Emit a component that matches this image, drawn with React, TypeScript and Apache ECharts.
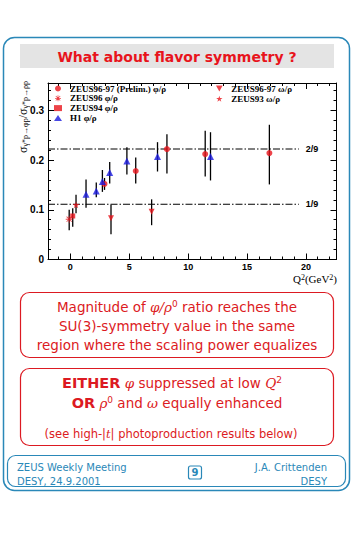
import React, { useEffect, useRef } from 'react';
import * as echarts from 'echarts';

// ---- data ----
const prelimPhiX = [2.9, 5.55, 8.2, 11.45, 16.9];
const prelimPhiY = [0.152, 0.178, 0.222, 0.212, 0.214];
const prelimPhiLo = [0.140, 0.153, 0.173, 0.167, 0.151];
const prelimPhiHi = [0.164, 0.205, 0.252, 0.259, 0.271];

const zeus96PhiX = [-0.1];
const zeus96PhiY = [0.081];
const zeus96PhiLo = [0.059];
const zeus96PhiHi = [0.100];

const zeus94PhiX = [0.2];
const zeus94PhiY = [0.0875];
const zeus94PhiLo = [0.066];
const zeus94PhiHi = [0.103];

const h1PhiX = [1.33, 2.2, 2.72, 3.34, 4.8, 7.4, 11.9];
const h1PhiY = [0.131, 0.138, 0.157, 0.175, 0.198, 0.207, 0.207];
const h1PhiLo = [0.104, 0.125, 0.136, 0.153, 0.171, 0.177, 0.159];
const h1PhiHi = [0.161, 0.155, 0.180, 0.196, 0.226, 0.236, 0.256];

const prelimOmegaX = [3.45, 6.9];
const prelimOmegaY = [0.083, 0.096];
const prelimOmegaLo = [0.051, 0.069];
const prelimOmegaHi = [0.110, 0.121];

const zeus93OmegaX = [0.48];
const zeus93OmegaY = [0.110];
const zeus93OmegaLo = [0.093];
const zeus93OmegaHi = [0.130];

const refLevels = [2 / 9, 1 / 9];
const refLabels = ['2/9', '1/9'];
const refXEnd = 19.4;

const seriesNames = [
  'ZEUS96-97 (Prelim.) φ/ρ',
  'ZEUS96 φ/ρ',
  'ZEUS94 φ/ρ',
  'H1 φ/ρ',
  'ZEUS96-97 ω/ρ',
  'ZEUS93 ω/ρ',
];

const X_MIN = -1.9;
const X_MAX = 22.6;
const Y_MIN = 0;
const Y_MAX = 0.355;

const RED = '#e8141c';
const BLUE = '#1a1adf';
const TEAL = '#2a88b8';
const TXT_RED = '#dc1a22';

const ASTERISK =
  'path://M4.4,0L5.6,0L5.6,10L4.4,10Z M0,4.4L10,4.4L10,5.6L0,5.6Z M0.9,1.7L1.7,0.9L9.1,8.3L8.3,9.1Z M8.3,0.9L9.1,1.7L1.7,9.1L0.9,8.3Z';
const STAR =
  'path://M5,0L6.2,3.6L10,3.6L6.9,5.9L8.1,9.5L5,7.3L1.9,9.5L3.1,5.9L0,3.6L3.8,3.6Z';
const DOWN_TRI = 'path://M0,0L10,0L5,9Z';

const zip = (xs: number[], ys: number[]) => xs.map((x, i) => [x, ys[i]]);
const zipErr = (xs: number[], lo: number[], hi: number[]) => xs.map((x, i) => [x, lo[i], hi[i]]);

const errData = [
  ...zipErr(prelimPhiX, prelimPhiLo, prelimPhiHi),
  ...zipErr(zeus96PhiX, zeus96PhiLo, zeus96PhiHi),
  ...zipErr(zeus94PhiX, zeus94PhiLo, zeus94PhiHi),
  ...zipErr(h1PhiX, h1PhiLo, h1PhiHi),
  ...zipErr(prelimOmegaX, prelimOmegaLo, prelimOmegaHi),
  ...zipErr(zeus93OmegaX, zeus93OmegaLo, zeus93OmegaHi),
];

const axisFont = { color: '#000', fontFamily: 'Liberation Sans', fontWeight: 'bold' as const };

const legendText = {
  fontFamily: 'Liberation Serif',
  fontWeight: 'bold' as const,
  fontSize: 9,
  color: '#000',
  lineHeight: 7,
  padding: [0, 0, 0, 3],
};

function buildOption(): any {
  const scatter = (name: string, data: number[][], symbol: string, size: number, color: string) => ({
    type: 'scatter',
    name,
    data,
    symbol,
    symbolSize: size,
    itemStyle: { color },
    z: 4,
    silent: true,
  });

  const refSeries = refLevels.map((lv, i) => ({
    type: 'line',
    name: 'ref' + i,
    data: [
      [X_MIN, lv],
      [refXEnd, lv],
    ],
    symbol: 'none',
    silent: true,
    z: 2,
    lineStyle: { color: '#000', width: 1, type: [7, 2, 1.5, 2] },
    endLabel: {
      show: true,
      formatter: refLabels[i],
      distance: 7,
      fontFamily: 'Liberation Sans',
      fontWeight: 'bold',
      fontSize: 9,
      color: '#000',
    },
  }));

  const mkX = (pos: 'bottom' | 'top', labels: boolean) => ({
    type: 'value',
    position: pos,
    min: X_MIN,
    max: X_MAX,
    splitNumber: 5,
    axisLine: { show: true, onZero: false, lineStyle: { color: '#000', width: 1 } },
    axisTick: { show: true, inside: true, length: 6, lineStyle: { color: '#000' } },
    minorTick: { show: true, splitNumber: 5, length: 3, lineStyle: { color: '#000' } },
    splitLine: { show: false },
    axisLabel: {
      show: labels,
      ...axisFont,
      fontSize: 9,
      margin: 3,
      showMinLabel: false,
      showMaxLabel: false,
      formatter: (v: number) => (Math.abs(v - Math.round(v)) < 1e-6 ? String(Math.round(v)) : ''),
    },
  });

  const mkY = (pos: 'left' | 'right', labels: boolean) => ({
    type: 'value',
    position: pos,
    min: Y_MIN,
    max: Y_MAX,
    interval: 0.1,
    axisLine: { show: true, onZero: false, lineStyle: { color: '#000', width: 1 } },
    axisTick: { show: true, inside: true, length: 6, lineStyle: { color: '#000' } },
    minorTick: { show: true, splitNumber: 5, length: 3, lineStyle: { color: '#000' } },
    splitLine: { show: false },
    axisLabel: {
      show: labels,
      ...axisFont,
      fontSize: 10,
      margin: 4,
      showMaxLabel: false,
      formatter: (v: number) => {
        if (v === 0) return '0';
        return Math.abs(v * 10 - Math.round(v * 10)) < 1e-6 ? v.toFixed(1) : '';
      },
    },
  });

  const txt = (x: number, y: number, text: string, extra: any = {}) => ({
    type: 'text',
    x,
    y,
    silent: true,
    style: {
      text,
      align: 'center',
      verticalAlign: 'middle',
      fill: TXT_RED,
      fontFamily: 'DejaVu Sans',
      fontSize: 13.5,
      ...extra,
    },
  });

  const mathRich = {
    m: { fontFamily: 'DejaVu Serif', fontStyle: 'italic', fontSize: 13.5, fill: TXT_RED },
    sup: { fontFamily: 'DejaVu Sans', fontSize: 9, fill: TXT_RED, verticalAlign: 'top' },
    b: { fontFamily: 'DejaVu Sans', fontWeight: 'bold', fontSize: 14.5, fill: TXT_RED },
    ms: { fontFamily: 'DejaVu Serif', fontStyle: 'italic', fontSize: 11.5, fill: TXT_RED },
  };

  const graphic: any[] = [
    // outer frame
    {
      type: 'rect',
      silent: true,
      shape: { x: 3.5, y: 37.5, width: 346, height: 453, r: 11 },
      style: { fill: 'none', stroke: TEAL, lineWidth: 1.5 },
      z: -10,
    },
    // title box
    {
      type: 'rect',
      silent: true,
      shape: { x: 20, y: 44, width: 314, height: 24 },
      style: { fill: '#e4e4e4' },
      z: -10,
    },
    txt(177, 56.5, 'What about flavor symmetry ?', { fontWeight: 'bold', fontSize: 14, fill: RED }),
    // box 1
    {
      type: 'rect',
      silent: true,
      shape: { x: 20.5, y: 292.5, width: 313, height: 65, r: 9 },
      style: { fill: 'none', stroke: TXT_RED, lineWidth: 1.2 },
    },
    txt(177, 306.5, 'Magnitude of {m|φ/ρ}{sup|0} ratio reaches the', { rich: mathRich }),
    txt(177, 325.5, 'SU(3)-symmetry value in the same'),
    txt(177, 345, 'region where the scaling power equalizes'),
    // box 2
    {
      type: 'rect',
      silent: true,
      shape: { x: 20.5, y: 368.5, width: 313, height: 77, r: 9 },
      style: { fill: 'none', stroke: TXT_RED, lineWidth: 1.2 },
    },
    txt(172, 382.5, '{b|EITHER} {m|φ} suppressed at low {m|Q}{sup|2}', { rich: mathRich }),
    txt(177, 402.5, '{b|OR} {m|ρ}{sup|0} and {m|ω} equally enhanced', { rich: mathRich }),
    txt(171, 434, '(see high-|{ms|t}| photoproduction results below)', { fontSize: 11.5, rich: mathRich }),
    // footer
    {
      type: 'rect',
      silent: true,
      shape: { x: 7.5, y: 455.5, width: 338, height: 31, r: 8 },
      style: { fill: 'none', stroke: TEAL, lineWidth: 1.2 },
    },
    txt(17, 467.5, 'ZEUS Weekly Meeting', { align: 'left', fill: TEAL, fontSize: 10 }),
    txt(17, 481, 'DESY, 24.9.2001', { align: 'left', fill: TEAL, fontSize: 10 }),
    txt(327, 467.5, 'J.A. Crittenden', { align: 'right', fill: TEAL, fontSize: 10 }),
    txt(327, 481, 'DESY', { align: 'right', fill: TEAL, fontSize: 10 }),
    {
      type: 'rect',
      silent: true,
      shape: { x: 188.5, y: 466, width: 13, height: 13, r: 2 },
      style: { fill: 'none', stroke: TEAL, lineWidth: 1.2 },
    },
    txt(195, 472.5, '9', { fill: TEAL, fontSize: 10, fontWeight: 'bold' }),
    // y axis title
    {
      type: 'text',
      x: 23,
      y: 117,
      rotation: Math.PI / 2,
      silent: true,
      style: {
        text: '{s|σ}{u|γ*p→φp}{s|/σ}{u|γ*p→ρp}',
        align: 'center',
        verticalAlign: 'middle',
        fill: '#000',
        fontFamily: 'Liberation Serif',
        fontSize: 10,
        rich: {
          s: { fontFamily: 'Liberation Serif', fontSize: 12, fill: '#000' },
          u: { fontFamily: 'Liberation Serif', fontSize: 8, fill: '#000', verticalAlign: 'bottom' },
        },
      },
    },
    // x axis title
    {
      type: 'text',
      x: 337,
      y: 279,
      silent: true,
      style: {
        text: 'Q{p|2}(GeV{p|2})',
        align: 'right',
        verticalAlign: 'middle',
        fill: '#000',
        fontFamily: 'Liberation Serif',
        fontSize: 11,
        rich: {
          p: { fontFamily: 'Liberation Serif', fontSize: 8, fill: '#000', verticalAlign: 'top' },
        },
      },
    },
  ];

  return {
    animation: false,
    backgroundColor: '#fff',
    grid: { left: 48, right: 26.5, top: 83, bottom: 275.5, containLabel: false },
    xAxis: [mkX('bottom', true), mkX('top', false)],
    yAxis: [mkY('left', true), mkY('right', false)],
    legend: [
      {
        data: seriesNames.slice(0, 4),
        orient: 'vertical',
        left: 54,
        top: 84,
        padding: 0,
        itemWidth: 8,
        itemHeight: 6,
        itemGap: 0.8,
        selectedMode: false,
        textStyle: legendText,
      },
      {
        data: seriesNames.slice(4),
        orient: 'vertical',
        left: 216,
        top: 84,
        padding: 0,
        itemWidth: 8,
        itemHeight: 6,
        itemGap: 1.2,
        selectedMode: false,
        textStyle: legendText,
      },
    ],
    series: [
      ...refSeries,
      {
        type: 'custom',
        name: 'errors',
        data: errData,
        silent: true,
        z: 3,
        encode: { x: 0, y: [1, 2] },
        renderItem: (_p: any, api: any) => {
          const a = api.coord([api.value(0), api.value(1)]);
          const b = api.coord([api.value(0), api.value(2)]);
          return {
            type: 'line',
            shape: { x1: a[0], y1: a[1], x2: b[0], y2: b[1] },
            style: { stroke: '#000', lineWidth: 1.3 },
          };
        },
      },
      scatter(seriesNames[0], zip(prelimPhiX, prelimPhiY), 'circle', 6, RED),
      scatter(seriesNames[1], zip(zeus96PhiX, zeus96PhiY), ASTERISK, 7, RED),
      scatter(seriesNames[2], zip(zeus94PhiX, zeus94PhiY), 'rect', 5, RED),
      scatter(seriesNames[3], zip(h1PhiX, h1PhiY), 'triangle', 7, BLUE),
      scatter(seriesNames[4], zip(prelimOmegaX, prelimOmegaY), DOWN_TRI, 6, RED),
      scatter(seriesNames[5], zip(zeus93OmegaX, zeus93OmegaY), STAR, 7, RED),
    ],
    graphic,
  };
}

export default function App() {
  const ref = useRef<HTMLDivElement>(null);
  useEffect(() => {
    if (!ref.current) return;
    const chart = echarts.init(ref.current, undefined, { renderer: 'svg' });
    chart.setOption(buildOption());
    return () => chart.dispose();
  }, []);
  return (
    <div
      ref={ref}
      style={{ position: 'fixed', left: 0, top: 0, width: 363, height: 535, background: '#fff' }}
    />
  );
}
